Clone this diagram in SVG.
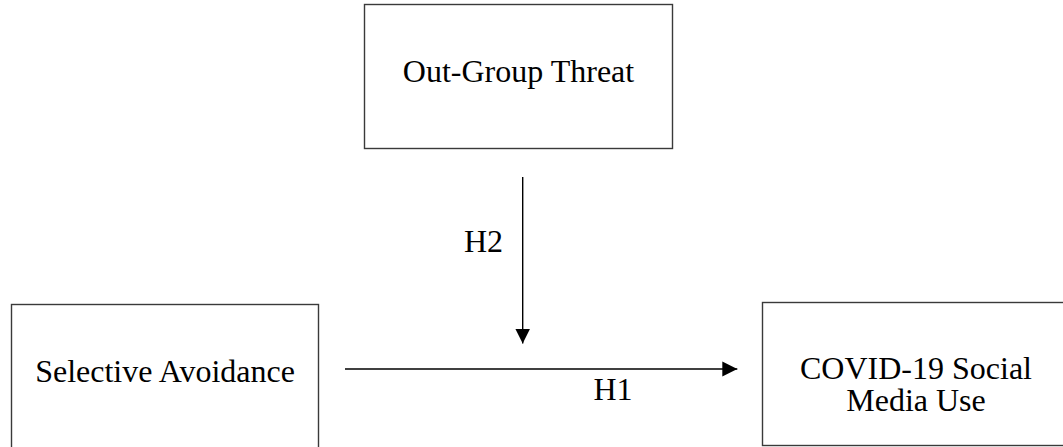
<svg xmlns="http://www.w3.org/2000/svg" width="1063" height="447" viewBox="0 0 1063 447">
  <style>
    .box { fill: #ffffff; stroke: #3a3a3a; stroke-width: 1.4; }
    .lbl { font-family: "Liberation Serif", "Times New Roman", serif; font-size: 32px; fill: #000000; }
    .mid { text-anchor: middle; }
    .conn { stroke: #000000; stroke-width: 1.4; fill: none; }
  </style>
  <defs>
    <marker id="arrow" markerUnits="userSpaceOnUse" markerWidth="16" markerHeight="16" refX="15" refY="8" orient="auto">
      <path d="M0,0.5 L15,8 L0,15.5 z" fill="#000000"/>
    </marker>
  </defs>
  <rect width="1063" height="447" fill="#ffffff"/>
  <g id="node-outgroup">
    <rect class="box" x="364.5" y="4.5" width="308" height="144"/>
    <text class="lbl mid" x="518.5" y="82">Out-Group Threat</text>
  </g>
  <g id="node-avoidance">
    <rect class="box" x="11.5" y="304.5" width="307" height="160"/>
    <text class="lbl mid" x="165" y="382">Selective Avoidance</text>
  </g>
  <g id="node-covid">
    <rect class="box" x="762.5" y="302.5" width="320" height="143"/>
    <text class="lbl mid" x="916" y="378.5">COVID-19 Social</text>
    <text class="lbl mid" x="916" y="411">Media Use</text>
  </g>
  <g id="connectors">
    <line class="conn" x1="522.7" y1="177" x2="522.7" y2="343.5" marker-end="url(#arrow)"/>
    <line class="conn" x1="345" y1="369" x2="737.3" y2="369" marker-end="url(#arrow)"/>
    <text class="lbl" x="464" y="252">H2</text>
    <text class="lbl" x="593.5" y="400">H1</text>
  </g>
</svg>
